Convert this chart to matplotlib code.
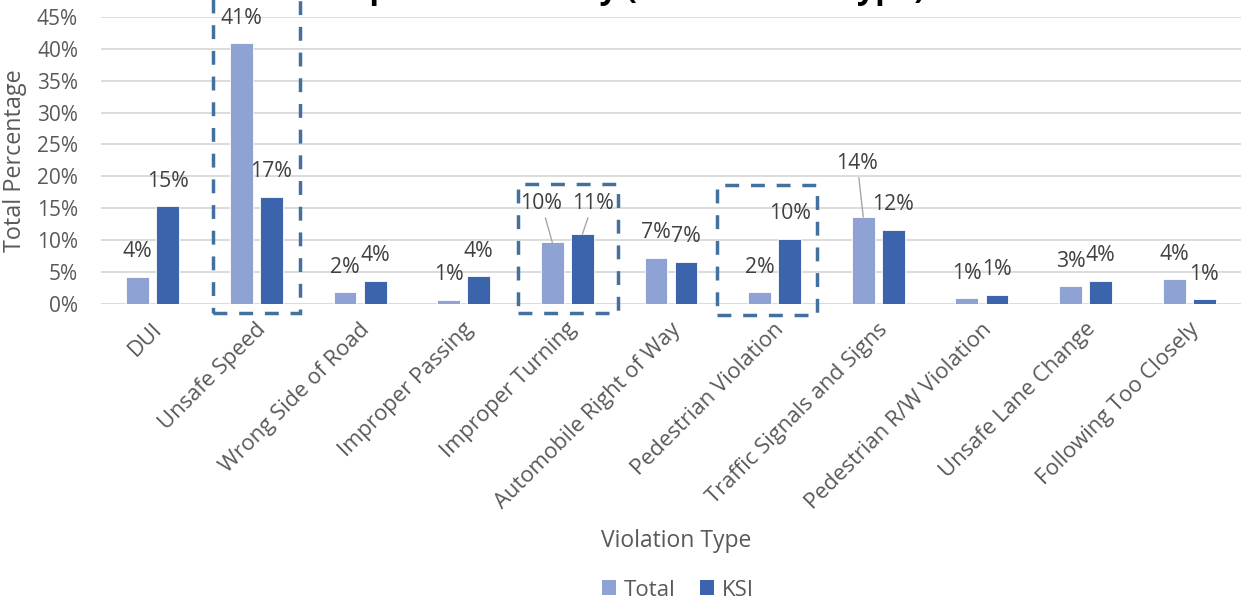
import matplotlib
matplotlib.use("Agg")
import matplotlib.pyplot as plt
from matplotlib.patches import Rectangle, Patch
from matplotlib.ticker import FuncFormatter
from matplotlib.transforms import ScaledTranslation
import numpy as np

plt.rcParams["font.family"] = ["Open Sans", "DejaVu Sans"]

# ---- data -------------------------------------------------------------
categories = [
    "DUI", "Unsafe Speed", "Wrong Side of Road", "Improper Passing",
    "Improper Turning", "Automobile Right of Way", "Pedestrian Violation",
    "Traffic Signals and Signs", "Pedestrian R/W Violation",
    "Unsafe Lane Change", "Following Too Closely",
]
total_pct = [4.2, 40.9, 1.8, 0.6, 9.6, 7.2, 1.8, 13.6, 0.8, 2.7, 3.8]
ksi_pct = [15.3, 16.8, 3.6, 4.3, 10.9, 6.6, 10.2, 11.6, 1.4, 3.6, 0.65]
series_names = ["Total", "KSI"]
y_ticks = [0, 5, 10, 15, 20, 25, 30, 35, 40, 45]

# ---- style ------------------------------------------------------------
TOTAL_COLOR = "#8fa2d4"
KSI_COLOR = "#3b64ad"
BOX_COLOR = "#41719c"
GRID_COLOR = "#d9d9d9"
TICK_COLOR = "#595959"
LABEL_COLOR = "#404040"

W, H = 1243, 606
fig = plt.figure(figsize=(W / 100, H / 100), dpi=100)
ax = fig.add_axes([101 / W, (H - 303.5) / H, 1140 / W, 286.2 / H])

x = np.arange(len(categories))
bar_w = 0.22
offset = 0.145

ax.bar(x - offset, total_pct, bar_w, color=TOTAL_COLOR,
       edgecolor="white", linewidth=0.6, zorder=3)
ax.bar(x + offset, ksi_pct, bar_w, color=KSI_COLOR,
       edgecolor="white", linewidth=0.6, zorder=3)

ax.set_xlim(-0.5, len(categories) - 0.5)
ax.set_ylim(0, 45)
ax.set_yticks(y_ticks)
ax.yaxis.set_major_formatter(FuncFormatter(lambda v, _: f"{v:.0f}%"))
ax.yaxis.grid(True, color=GRID_COLOR, linewidth=1.3, zorder=0)
ax.set_axisbelow(True)
for s in ax.spines.values():
    s.set_visible(False)
ax.tick_params(axis="y", length=0, pad=16.5, labelsize=15, labelcolor=TICK_COLOR)
ax.tick_params(axis="x", length=0, pad=11, labelsize=15.8, labelcolor=TICK_COLOR)

ax.set_xticks(x)
ax.set_xticklabels(categories, rotation=45, ha="right", va="top",
                   rotation_mode="anchor")
shift = ScaledTranslation(-1 / 100, 0, fig.dpi_scale_trans)
for lab in ax.get_xticklabels():
    lab.set_transform(lab.get_transform() + shift)

# ---- data labels ------------------------------------------------------
# default: centred 25 px above the bar top; a few are moved with leader lines
moved = {
    (0, 4): (-11, 39),
    (1, 4): (10.5, 31),
    (0, 7): (-6, 54),
}
for s_idx, (vals, xs) in enumerate([(total_pct, x - offset), (ksi_pct, x + offset)]):
    for i, (xi, v) in enumerate(zip(xs, vals)):
        dx, dy = moved.get((s_idx, i), (0, 25))
        arrow = None
        if (s_idx, i) in moved:
            arrow = dict(arrowstyle="-", color="#a6a6a6", lw=1.0,
                         shrinkA=1, shrinkB=0)
        ax.annotate(f"{v:.0f}%", xy=(xi, v), xytext=(dx, dy),
                    textcoords="offset pixels", ha="center", va="center",
                    fontsize=15.3, color=LABEL_COLOR, arrowprops=arrow,
                    annotation_clip=False, zorder=5)

# ---- highlight boxes --------------------------------------------------
boxes = [(0.577, 1.423, -1.5, 48.0), (3.519, 4.49, -1.5, 18.8),
         (5.442, 6.404, -1.8, 18.6)]
for x0, x1, y0, y1 in boxes:
    ax.add_patch(Rectangle((x0, y0), x1 - x0, y1 - y0, fill=False,
                           edgecolor=BOX_COLOR, linewidth=2.5,
                           linestyle=(0, (4, 3.4)), clip_on=False, zorder=6))

# ---- titles, axis labels, legend --------------------------------------
fig.text(925 / W, 1 + 2 / H, "KSI Comparison Rate by (All Violation Type)",
         ha="right", va="baseline", fontsize=23, fontweight="bold", color="black")
fig.text(15 / W, 1 - 161 / H, "Total Percentage", rotation=90,
         ha="center", va="center", fontsize=16.8, color=TICK_COLOR)
fig.text(676 / W, 1 - 541 / H, "Violation Type", ha="center", va="center",
         fontsize=16.5, color=TICK_COLOR)

handles = [Patch(facecolor=TOTAL_COLOR), Patch(facecolor=KSI_COLOR)]
leg = fig.legend(handles, series_names, loc="center",
                 bbox_to_anchor=(678 / W, 1 - 590 / H), ncol=2, frameon=False,
                 fontsize=16, handlelength=0.65, handleheight=0.65,
                 handletextpad=0.35, columnspacing=1.1)
for t in leg.get_texts():
    t.set_color(TICK_COLOR)

fig.savefig("out.png", dpi=100)
